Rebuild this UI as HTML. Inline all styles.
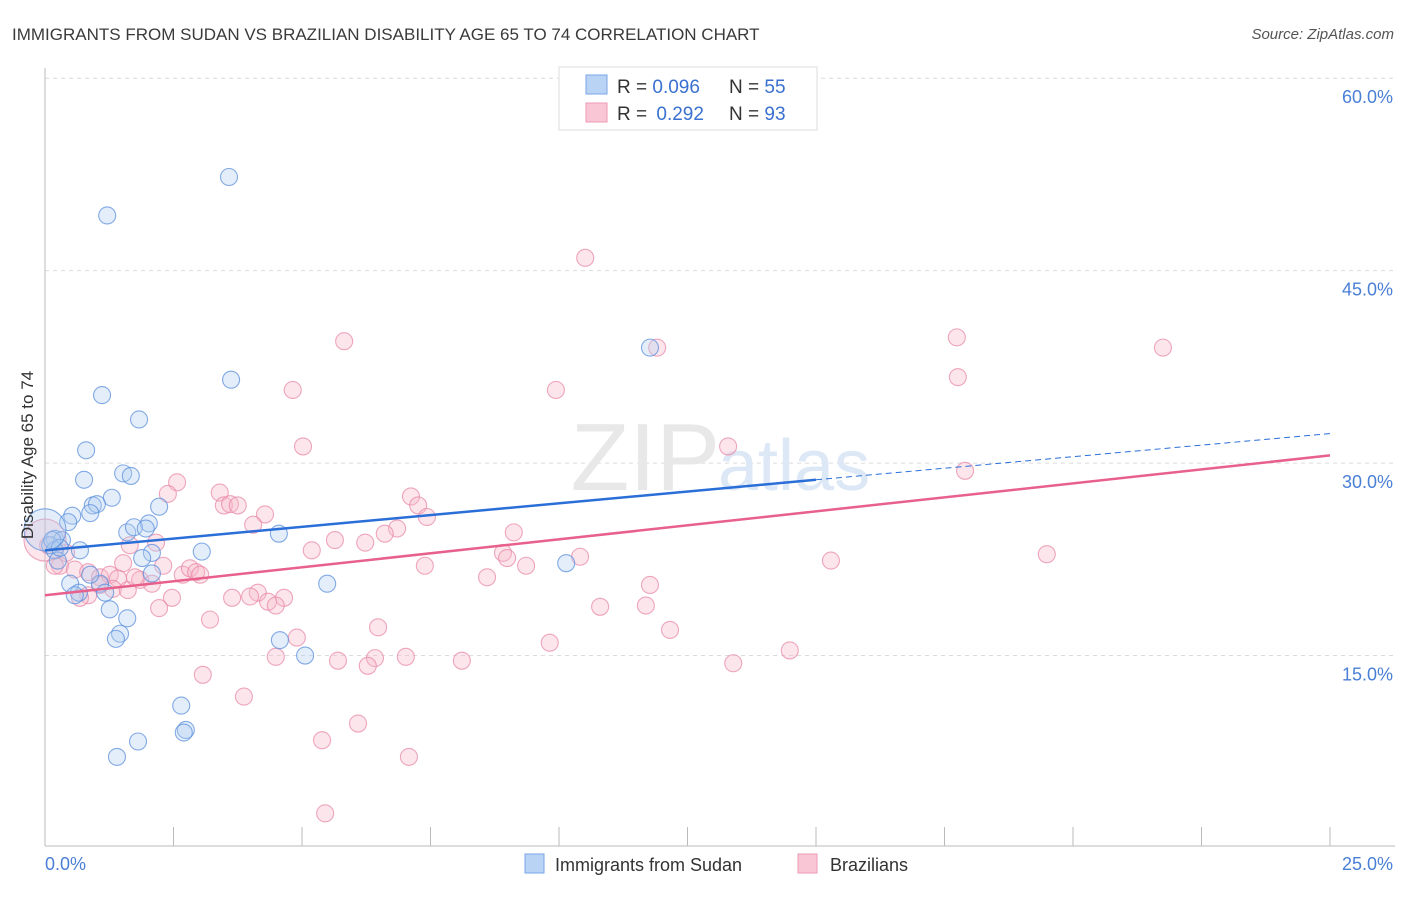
<!DOCTYPE html>
<html><head><meta charset="utf-8"><style>
body{margin:0;background:#fff;font-family:"Liberation Sans",sans-serif}
svg text{font-family:"Liberation Sans",sans-serif}
</style></head><body>
<svg id="c" width="1406" height="892" viewBox="0 0 1406 892" xmlns="http://www.w3.org/2000/svg">
<text x="12" y="40" font-size="17" fill="#3a3a3a">IMMIGRANTS FROM SUDAN VS BRAZILIAN DISABILITY AGE 65 TO 74 CORRELATION CHART</text>
<text x="1394" y="39" font-size="15" fill="#555" text-anchor="end" font-style="italic">Source: ZipAtlas.com</text>
<g id="grid"></g>
<text x="720" y="490" font-size="96" fill="#e8e8e8" text-anchor="end" font-family="Liberation Serif">ZIP</text>
<text x="718" y="490" font-size="72" fill="#dde8f6">atlas</text>
<g id="axes"></g>
<g id="pts"></g>
<g id="lines"></g>
<text transform="translate(33,455) rotate(-90)" font-size="17" fill="#333" text-anchor="middle">Disability Age 65 to 74</text>
<text x="45" y="870" font-size="18" fill="#4a7fd6">0.0%</text>
<text x="1393" y="870" font-size="18" fill="#4a7fd6" text-anchor="end">25.0%</text>
<g>
<rect x="559" y="67" width="258" height="63" fill="#fff" stroke="#ddd"/>
<rect x="586" y="75" width="21" height="19" fill="#b9d3f5" stroke="#7aa6e6"/>
<rect x="586" y="103" width="21" height="19" fill="#f9c6d5" stroke="#ee9ab3"/>
<text x="617" y="93" font-size="19" fill="#333">R = <tspan fill="#3a70d0">0.096</tspan></text>
<text x="729" y="93" font-size="19" fill="#333">N = <tspan fill="#3a70d0">55</tspan></text>
<text x="617" y="120" font-size="19" fill="#333">R = <tspan fill="#3a70d0" dx="4">0.292</tspan></text>
<text x="729" y="120" font-size="19" fill="#333">N = <tspan fill="#3a70d0">93</tspan></text>
</g>
<g>
<rect x="525" y="854" width="19" height="19" fill="#b9d3f5" stroke="#7aa6e6"/>
<text x="555" y="871" font-size="18" fill="#333">Immigrants from Sudan</text>
<rect x="798" y="854" width="19" height="19" fill="#f9c6d5" stroke="#ee9ab3"/>
<text x="830" y="871" font-size="18" fill="#333">Brazilians</text>
</g>
</svg>
<script>
const yTicks=[60,45,30,15];
const yTickLabels=["60.0%","45.0%","30.0%","15.0%"];
const xTicks=[0,2.5,5,7.5,10,12.5,15,17.5,20,22.5,25];
const blueX=[3.58,1.21,3.62,1.11,1.83,0.80,0.76,1.52,1.67,1.30,0.93,1.01,2.22,0.53,0.45,0.88,2.02,1.60,1.73,1.96,4.55,0.19,0.33,0.10,0.68,2.08,1.89,3.05,0.19,0.25,0.49,1.07,5.49,2.08,0.88,1.17,0.66,1.26,1.60,1.46,1.38,4.57,5.06,2.65,2.74,2.70,1.81,1.40,11.77,10.14,0.14,0.29,0.58,0.0];
const blueY=[52.3,49.3,36.5,35.3,33.4,31.0,28.7,29.2,29.0,27.3,26.7,26.8,26.6,25.9,25.4,26.1,25.3,24.6,25.0,24.9,24.5,24.1,24.0,23.6,23.2,23.0,22.6,23.1,23.2,22.4,20.6,20.6,20.6,21.4,21.3,19.9,19.9,18.6,17.9,16.7,16.3,16.2,15.0,11.1,9.2,9.0,8.3,7.1,39.0,22.2,24.0,23.4,19.7,24.8];
const blueR=[8.5,8.5,8.5,8.5,8.5,8.5,8.5,8.5,8.5,8.5,8.5,8.5,8.5,8.5,8.5,8.5,8.5,8.5,8.5,8.5,8.5,8.5,8.5,8.5,8.5,8.5,8.5,8.5,8.5,8.5,8.5,8.5,8.5,8.5,8.5,8.5,8.5,8.5,8.5,8.5,8.5,8.5,8.5,8.5,8.5,8.5,8.5,8.5,8.5,8.5,8.5,8.5,8.5,21];
const pinkX=[10.51,5.82,17.74,21.75,11.91,17.76,9.94,4.82,5.02,13.29,17.90,2.57,2.39,3.40,3.48,3.60,3.75,7.12,7.26,7.43,4.28,4.05,6.85,6.61,9.12,5.64,5.19,6.23,8.91,8.99,10.41,9.36,7.39,8.60,15.29,19.49,2.16,1.65,2.30,1.52,0.41,0.29,0.58,0.84,1.07,1.26,1.42,1.85,2.08,2.68,2.82,2.94,3.02,1.32,1.61,0.84,0.68,3.64,4.14,4.65,3.99,4.34,4.49,2.47,2.22,3.21,10.80,11.69,11.77,12.16,6.48,9.82,4.90,3.07,4.49,5.70,6.42,6.28,7.02,8.11,13.39,14.49,3.87,6.09,5.39,7.08,5.45,0.06,0.19,1.07,1.75,0.0];
const pinkY=[46.0,39.5,39.8,39.0,39.0,36.7,35.7,35.7,31.3,31.3,29.4,28.5,27.6,27.7,26.7,26.8,26.7,27.4,26.7,25.8,26.0,25.2,24.9,24.5,24.6,24.0,23.2,23.8,23.0,22.6,22.7,22.0,22.0,21.1,22.4,22.9,23.8,23.6,22.0,22.2,23.0,22.0,21.7,21.5,21.1,21.3,21.0,20.9,20.6,21.3,21.8,21.5,21.3,20.2,20.1,19.7,19.5,19.5,19.9,19.5,19.6,19.2,18.9,19.5,18.7,17.8,18.8,18.9,20.5,17.0,17.2,16.0,16.4,13.5,14.9,14.6,14.8,14.2,14.9,14.6,14.4,15.4,11.8,9.7,8.4,7.1,2.7,23.6,22.0,20.5,21.1,24.0];
const blueTrend=[23.2,28.7,32.3];
const blueTrendX=[0,15,25];
const pinkTrend=[19.7,30.6];
const pinkTrendX=[0,25];
const NS="http://www.w3.org/2000/svg";
const X=v=>45+v/25*1285;
const Y=v=>848-v*12.83;
function mk(t,a,p){const e=document.createElementNS(NS,t);for(const k in a)e.setAttribute(k,a[k]);p.appendChild(e);return e;}
const grid=document.getElementById('grid'),axes=document.getElementById('axes'),pts=document.getElementById('pts'),lines=document.getElementById('lines');
yTicks.forEach((t,i)=>{
 const l=mk('line',{x1:45,x2:1395,y1:Y(t),y2:Y(t),stroke:'#dcdcdc','stroke-dasharray':'4,4'},grid);
 
 
 const tx=mk('text',{x:1393,y:Y(t)+25,'font-size':18,fill:'#4a7fd6','text-anchor':'end'},grid);
 tx.textContent=yTickLabels[i];
 
 
});
mk('line',{x1:45,x2:45,y1:68,y2:846,stroke:'#bbb'},axes);
mk('line',{x1:45,x2:1395,y1:846,y2:846,stroke:'#bbb'},axes);
xTicks.forEach(t=>{
 const l=mk('line',{x1:X(t),x2:X(t),y1:827,y2:846,stroke:'#bbb'},axes);
 
 
});
function drawPts(xs,ys,rs,fill,stroke,name){
 xs.forEach((x,i)=>{
  const c=mk('circle',{cx:X(x),cy:Y(ys[i]),r:rs[i],fill:fill,'fill-opacity':0.35,stroke:stroke,'stroke-width':1.1,'stroke-opacity':0.75},pts);
  
  
 });
}
drawPts(pinkX,pinkY,pinkX.map((v,i)=>i===pinkX.length-1?21:8.5),'#f7b6c9','#e88aa8','point-brazilians');
drawPts(blueX,blueY,blueR,'#b3cdf2','#5b8fdc','point-sudan');
let l=mk('line',{x1:X(blueTrendX[0]),y1:Y(blueTrend[0]),x2:X(blueTrendX[1]),y2:Y(blueTrend[1]),stroke:'#2a6ed8','stroke-width':2.5},lines);


l=mk('line',{x1:X(blueTrendX[1]),y1:Y(blueTrend[1]),x2:X(blueTrendX[2]),y2:Y(blueTrend[2]),stroke:'#2a6ed8','stroke-width':1,'stroke-dasharray':'6,4'},lines);


l=mk('line',{x1:X(pinkTrendX[0]),y1:Y(pinkTrend[0]),x2:X(pinkTrendX[1]),y2:Y(pinkTrend[1]),stroke:'#e8608c','stroke-width':2.5},lines);


</script>
</body></html>
